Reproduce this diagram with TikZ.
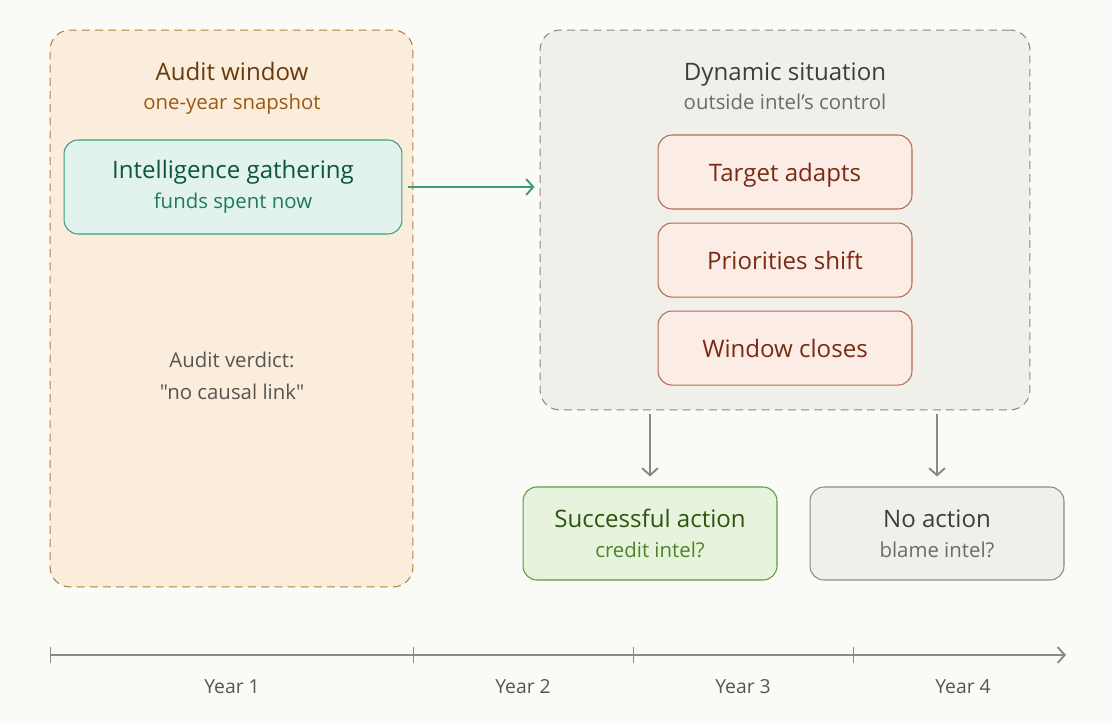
\documentclass[tikz,border=0pt]{standalone}
\usepackage{fontspec}
\setmainfont{Open Sans}[Ligatures=TeXOff]
\usetikzlibrary{arrows.meta, positioning, calc}

\definecolor{paper}{HTML}{FAFAF7}
\definecolor{auditfill}{HTML}{FBEDDC}
\definecolor{auditline}{HTML}{B5803F}
\definecolor{audittext}{HTML}{6A3A0B}
\definecolor{auditsub}{HTML}{9A5A14}
\definecolor{intelfill}{HTML}{E1F3EC}
\definecolor{intelline}{HTML}{3E9C7A}
\definecolor{inteltext}{HTML}{0E5441}
\definecolor{intelsub}{HTML}{1F7A5D}
\definecolor{dynfill}{HTML}{F1EFEA}
\definecolor{dynline}{HTML}{8A8A86}
\definecolor{dyntext}{HTML}{3D3D3A}
\definecolor{dynsub}{HTML}{6B6B68}
\definecolor{riskfill}{HTML}{FBECE6}
\definecolor{riskline}{HTML}{B56A52}
\definecolor{risktext}{HTML}{7A2A12}
\definecolor{goodfill}{HTML}{E8F3DE}
\definecolor{goodline}{HTML}{5E9A3E}
\definecolor{goodtext}{HTML}{2C5510}
\definecolor{goodsub}{HTML}{4D8425}
\definecolor{axisgray}{HTML}{8A8A85}
\definecolor{labelgray}{HTML}{555553}

\newcommand{\titlefont}{\fontsize{13.7}{17}\selectfont}
\newcommand{\subfont}{\fontsize{11.6}{17}\selectfont}

\begin{document}
\begin{tikzpicture}[x=0.02cm, y=-0.02cm, thick, >={Straight Barb[length=4pt, width=9pt]}]

  % Define styles
  \tikzstyle{window} = [rectangle, rounded corners=0.4cm, dash pattern=on 4.5pt off 3pt, line width=0.6pt]
  \tikzstyle{card} = [rectangle, rounded corners=0.28cm, line width=0.6pt, minimum width=5.08cm, align=center, font=\titlefont]
  \tikzstyle{risk} = [card, minimum height=1.48cm, text height=12pt, text depth=1.6pt, draw=riskline, fill=riskfill, text=risktext]
  \tikzstyle{arrow} = [line width=1.1pt, ->]
  \tikzstyle{year} = [font=\fontsize{11}{13}\selectfont, text=labelgray]

  \useasboundingbox[fill=paper] (0,0) rectangle (1112,723);

  % Place nodes
  \node [window, draw=auditline, fill=auditfill, minimum width=7.26cm, minimum height=11.14cm] (audit) at (231.5,308.5) {};
  \node [font=\titlefont, text=audittext, anchor=base] (auditTitle) at (232,81) {Audit window};
  \node [font=\subfont, text=auditsub, anchor=base] (auditSub) at (232,110) {one-year snapshot};
  \node [card, minimum width=6.76cm, minimum height=1.88cm, draw=intelline, fill=intelfill, text=inteltext] (intel) at (233,187)
    {Intelligence gathering\\{\subfont\color{intelsub}funds spent now}};
  \node [font=\fontsize{11.6}{18.5}\selectfont, text=labelgray, align=center] (verdict) at (232,376) {Audit verdict:\\"no causal link"};

  \node [window, draw=dynline, fill=dynfill, minimum width=9.8cm, minimum height=7.6cm] (dynamic) at (785,220) {};
  \node [font=\titlefont, text=dyntext, anchor=base] (dynTitle) at (785,81) {Dynamic situation};
  \node [font=\subfont, text=dynsub, anchor=base] (dynSub) at (785,110) {outside intel’s control};
  \node [risk] (target) at (785,172) {Target adapts};
  \node [risk, below=0.26cm of target] (shift) {Priorities shift};
  \node [risk, below=0.26cm of shift] (closes) {Window closes};

  \node [card, minimum height=1.86cm, draw=goodline, fill=goodfill, text=goodtext] (success) at (650,533.5)
    {Successful action\\{\subfont\color{goodsub}credit intel?}};
  \node [card, minimum height=1.86cm, draw=dynline, fill=dynfill, text=dyntext] (noaction) at (937,533.5)
    {No action\\{\subfont\color{dynsub}blame intel?}};

  % Timeline
  \coordinate (t0) at (50,655);
  \coordinate (t1) at (413,655);
  \coordinate (t2) at (633,655);
  \coordinate (t3) at (853,655);
  \coordinate (tend) at (1066,655);
  \draw [arrow, axisgray] (t0) -- (tend);
  \foreach \t in {t0,t1,t2,t3}
    \draw [axisgray, line width=0.5pt] ($(\t)+(0,-8)$) -- ($(\t)+(0,8)$);
  \node [year] (y1) at (232,687) {Year 1};
  \node [year] (y2) at (523,687) {Year 2};
  \node [year] (y3) at (743,687) {Year 3};
  \node [year] (y4) at (963,687) {Year 4};

  % Draw edges
  \draw [arrow, intelline, shorten <=0.12cm, shorten >=0.1cm] (intel.east) -- (intel.east -| dynamic.west);
  \draw [arrow, axisgray, shorten <=0.08cm, shorten >=0.2cm] (dynamic.south -| success) -- (success.north);
  \draw [arrow, axisgray, shorten <=0.08cm, shorten >=0.2cm] (dynamic.south -| noaction) -- (noaction.north);

\end{tikzpicture}
\end{document}
